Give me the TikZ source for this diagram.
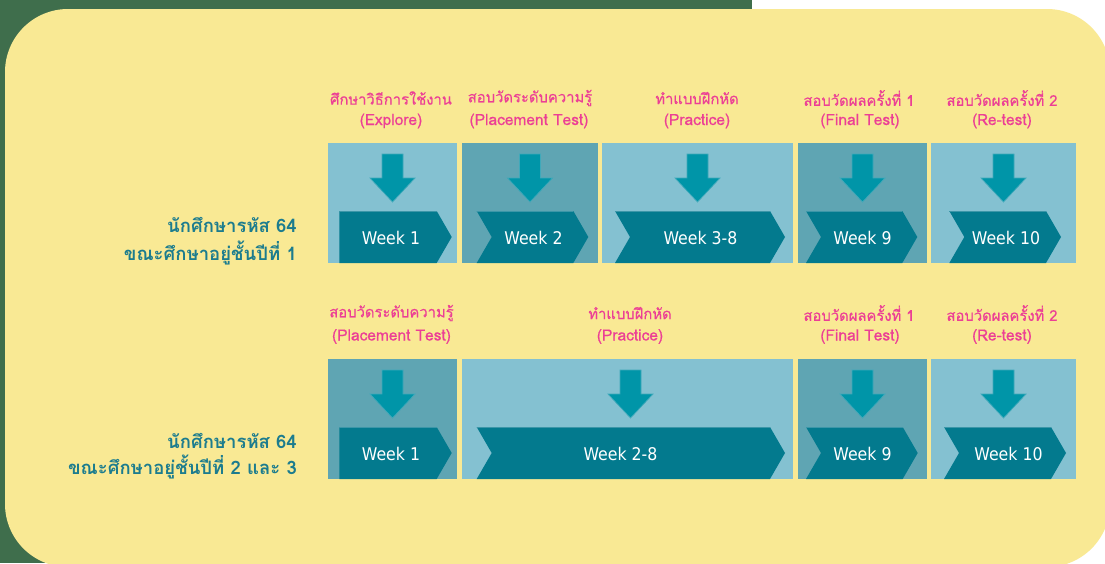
\documentclass[tikz,border=0pt]{standalone}
\usepackage{fontspec}
\newfontfamily\thaifont[Script=Thai]{Loma}
\newfontfamily\thaifontb[Script=Thai,FakeBold=0.5]{Loma}
\newfontfamily\weekfont{DejaVu Sans Condensed}
\definecolor{greenbg}{HTML}{3F6E4C}
\definecolor{yel}{HTML}{F9E994}
\definecolor{lightbox}{HTML}{84C1D1}
\definecolor{darkbox}{HTML}{5FA5B3}
\definecolor{arrowcol}{HTML}{0095A8}
\definecolor{arrowedge}{HTML}{3FA9BA}
\definecolor{chevcol}{HTML}{037A8E}
\definecolor{chevedge}{HTML}{3C96A8}
\definecolor{pinktxt}{HTML}{EC3F95}
\definecolor{tealtxt}{HTML}{1C7C8E}
\tikzset{
  lbox/.style={fill=lightbox, draw=none, inner sep=0pt, minimum height=120pt},
  dbox/.style={fill=darkbox, draw=none, inner sep=0pt, minimum height=120pt},
  hdr/.style={text=pinktxt, font=\thaifontb\fontsize{14.8}{18}\selectfont, inner sep=0pt},
  hdren/.style={text=pinktxt, font=\thaifontb\fontsize{15.5}{18}\selectfont, inner sep=0pt},
  lbl/.style={text=tealtxt, font=\thaifont\bfseries\fontsize{18.5}{26}\selectfont, align=right, inner sep=0pt},
  wk/.style={text=white, font=\weekfont\fontsize{17.5}{20}\selectfont, inner sep=0pt},
}
% down arrow: #1 center x, #2 box top y
\newcommand{\mydown}[2]{%
  \filldraw[fill=arrowcol, draw=arrowedge, line width=0.7pt, line join=miter] (#1-10.5,#2+11) -- (#1+10.5,#2+11) -- (#1+10.5,#2+35) -- (#1+22.5,#2+35)
    -- (#1,#2+59) -- (#1-22.5,#2+35) -- (#1-10.5,#2+35) -- cycle;}
% chevron: #1 left x, #2 notch depth, #3 flat end x, #4 top y
\newcommand{\mychev}[4]{%
  \fill[chevcol] (#1,#4) -- (#3,#4) -- (#3+15,#4+26) -- (#3,#4+52) -- (#1,#4+52) -- (#1+#2,#4+26) -- cycle;
  \draw[chevedge, line width=0.7pt] (#1,#4) -- (#3,#4);}
\begin{document}
\begin{tikzpicture}[x=1pt,y=-1pt]
\useasboundingbox (0,0) rectangle (1105,563);
\fill[greenbg] (0,0) rectangle (752,563);
\fill[white] (752,0) rectangle (1105,563);
\fill[yel, rounded corners=63pt] (5,9) rectangle (1110,567);

% ---------- row 1 ----------
\node[lbox, minimum width=129pt] (r1b1) at (392.5,203) {};
\node[dbox, minimum width=136pt] (r1b2) at (530,203) {};
\node[lbox, minimum width=191pt] (r1b3) at (697.5,203) {};
\node[dbox, minimum width=129pt] (r1b4) at (862.5,203) {};
\node[lbox, minimum width=145pt] (r1b5) at (1003.5,203) {};

\mydown{392.5}{143}
\mydown{530}{143}
\mydown{697.5}{143}
\mydown{862.5}{143}
\mydown{1003.5}{143}

\mychev{339.3}{0}{436.7}{211}
\mychev{476.7}{15}{573.3}{211}
\mychev{615}{15}{770}{211}
\mychev{806}{15}{902.3}{211}
\mychev{949.3}{15}{1046}{211}

\node[wk] (r1w1) at (391,238) {Week 1};
\node[wk] (r1w2) at (533.5,238) {Week 2};
\node[wk] (r1w3) at (700.5,238) {Week 3-8};
\node[wk] (r1w4) at (862.5,238) {Week 9};
\node[wk] (r1w5) at (1006,238) {Week 10};

\node[hdr] (r1h1) at (391,98) {ศึกษาวิธีการใช้งาน};
\node[hdren] (r1e1) at (391,121) {(Explore)};
\node[hdr] (r1h2) at (530,98) {สอบวัดระดับความรู้};
\node[hdren] (r1e2) at (529,121) {(Placement Test)};
\node[hdr] (r1h3) at (697,98) {ทำแบบฝึกหัด};
\node[hdren] (r1e3) at (697,121) {(Practice)};
\node[hdr] (r1h4) at (859,98) {สอบวัดผลครั้งที่ 1};
\node[hdren] (r1e4) at (860,121) {(Final Test)};
\node[hdr] (r1h5) at (1002,98) {สอบวัดผลครั้งที่ 2};
\node[hdren] (r1e5) at (1002,121) {(Re-test)};

\node[lbl, anchor=east] (lab1a) at (297,225) {นักศึกษารหัส 64};
\node[lbl, anchor=east] (lab1b) at (297,253) {ขณะศึกษาอยู่ชั้นปีที่ 1};

% ---------- row 2 ----------
\node[dbox, minimum width=129pt] (r2b1) at (392.5,419) {};
\node[lbox, minimum width=331pt] (r2b2) at (627.5,419) {};
\node[dbox, minimum width=129pt] (r2b3) at (862.5,419) {};
\node[lbox, minimum width=145pt] (r2b4) at (1003.5,419) {};

\mydown{392.5}{359}
\mydown{630.5}{359}
\mydown{862.5}{359}
\mydown{1003.5}{359}

\mychev{339.3}{0}{436.7}{427}
\mychev{476.7}{15}{770}{427}
\mychev{806}{15}{902.7}{427}
\mychev{944}{15}{1051}{427}

\node[wk] (r2w1) at (391,454) {Week 1};
\node[wk] (r2w2) at (620.5,454) {Week 2-8};
\node[wk] (r2w3) at (862.5,454) {Week 9};
\node[wk] (r2w4) at (1008.5,454) {Week 10};

\node[hdr] (r2h1) at (391.5,313) {สอบวัดระดับความรู้};
\node[hdren] (r2e1) at (391.5,336.5) {(Placement Test)};
\node[hdr] (r2h2) at (630,313) {ทำแบบฝึกหัด};
\node[hdren] (r2e2) at (630,336.5) {(Practice)};
\node[hdr] (r2h3) at (859,313) {สอบวัดผลครั้งที่ 1};
\node[hdren] (r2e3) at (860,336.5) {(Final Test)};
\node[hdr] (r2h4) at (1002,313) {สอบวัดผลครั้งที่ 2};
\node[hdren] (r2e4) at (1002,336.5) {(Re-test)};

\node[lbl, anchor=east] (lab2a) at (297,441) {นักศึกษารหัส 64};
\node[lbl, anchor=east] (lab2b) at (297,467) {ขณะศึกษาอยู่ชั้นปีที่ 2 และ 3};
\end{tikzpicture}
\end{document}
